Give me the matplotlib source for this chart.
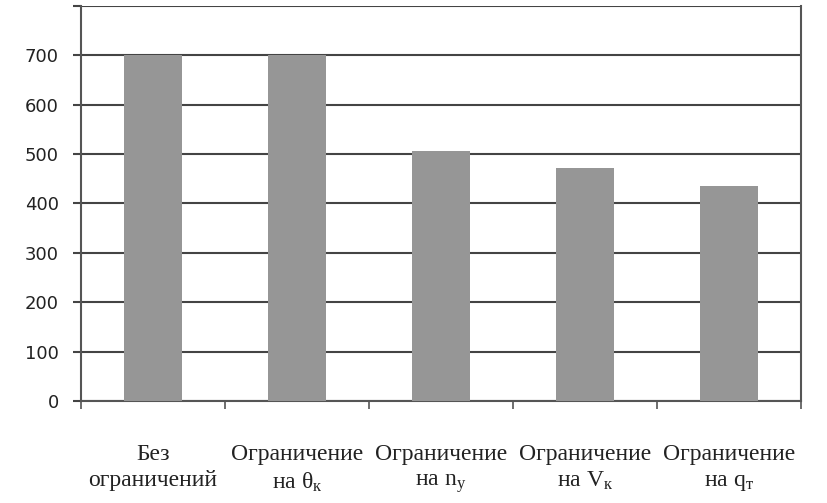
import matplotlib.pyplot as plt
import numpy as np

# данные с графика
categories = ['Без\nограничений',
              'Ограничение\nна $\\mathrm{θ}_{\\mathrm{к}}$',
              'Ограничение\nна $\\mathrm{n}_{\\mathrm{y}}$',
              'Ограничение\nна $\\mathrm{V}_{\\mathrm{к}}$',
              'Ограничение\nна $\\mathrm{q}_{\\mathrm{т}}$']
values = [700, 700, 507, 471, 436]
yticks = [0, 100, 200, 300, 400, 500, 600, 700, 800]
ylabels = ['0', '100', '200', '300', '400', '500', '600', '700', '']

plt.rcParams['mathtext.fontset'] = 'custom'
plt.rcParams['mathtext.rm'] = 'Liberation Serif'
plt.rcParams['mathtext.it'] = 'Liberation Serif:italic'

fig = plt.figure(figsize=(8.27, 5.03), dpi=100)
ax = fig.add_axes([0.098, 0.203, 0.8706, 0.785])

x = np.arange(len(values))
ax.bar(x, values, width=0.4, color='#969696', zorder=3)

ax.set_xlim(-0.5, len(values) - 0.5)
ax.set_ylim(0, 800)
ax.set_yticks(yticks)
ax.set_yticklabels(ylabels, fontsize=13, family='DejaVu Sans', color='#222222')
ax.yaxis.grid(True, color='#444444', linewidth=1.5, zorder=1)

# подписи категорий по центру, деления на границах
ax.set_xticks(x)
ax.set_xticklabels(categories, fontsize=17, family='Liberation Serif',
                   color='#222222', linespacing=1.3)
ax.tick_params(axis='x', length=0, pad=31)
ax.set_xticks(np.arange(-0.5, len(values)), minor=True)
ax.tick_params(axis='x', which='minor', length=6, width=1.2, color='#555555', direction='out')
ax.tick_params(axis='y', length=6, width=1.5, color='#444444', pad=10)

for s in ['left', 'right', 'bottom']:
    ax.spines[s].set_color('#555555')
    ax.spines[s].set_linewidth(1.5)
ax.spines['top'].set_visible(False)

fig.savefig('out.png', dpi=100)
